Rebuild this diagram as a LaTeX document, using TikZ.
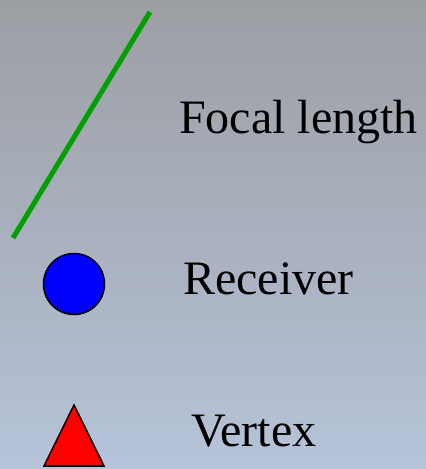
\documentclass[tikz,border=0pt]{standalone}
\usepackage{fontspec}
\setmainfont{Liberation Serif}
\definecolor{bgtop}{RGB}{156,158,163}
\definecolor{bgbot}{RGB}{182,195,217}
\definecolor{lgreen}{RGB}{0,160,0}
\tikzset{
  lbl/.style={anchor=base west, inner sep=0pt, font=\fontsize{48pt}{48pt}\selectfont},
  shp/.style={draw=black, line width=1.5pt, line join=miter}
}
\begin{document}
\begin{tikzpicture}[x=1pt,y=-1pt]
\shade[top color=bgtop, bottom color=bgbot] (0,0) rectangle (426,469);
\useasboundingbox (0,0) rectangle (426,469);
\coordinate (la) at (150,12);
\coordinate (lb) at (13,238);
\draw[lgreen, line width=5pt] (la) -- (lb);
\node[shp, circle, fill=blue, minimum size=61pt, inner sep=0pt] (rc) at (74,284) {};
\coordinate (ta) at (74,405);
\coordinate (tb) at (104,466);
\coordinate (tc) at (44,466);
\draw[shp, fill=red] (ta) -- (tb) -- (tc) -- cycle;
\node[lbl] (fl) at (179,133) {Focal length};
\node[lbl] (rv) at (183,294) {Receiver};
\node[lbl] (vt) at (191,446) {Vertex};
\end{tikzpicture}
\end{document}
